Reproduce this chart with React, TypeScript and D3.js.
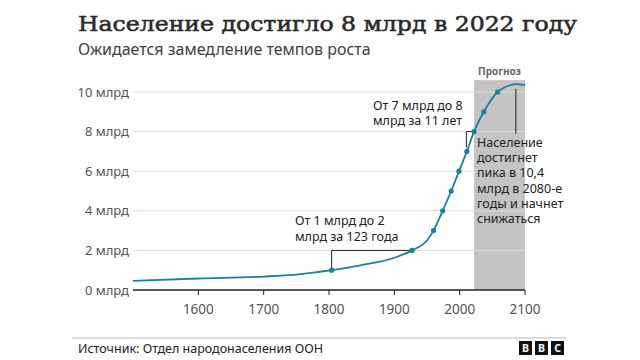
import React from "react";
import * as d3 from "d3";

const years = [1500, 1600, 1700, 1750, 1804, 1850, 1900, 1927, 1950, 1960, 1974, 1987, 1999, 2011, 2022, 2037, 2058, 2070, 2086, 2100];
const population = [0.46, 0.58, 0.68, 0.78, 1.0, 1.26, 1.63, 2.0, 2.5, 3.0, 4.0, 5.0, 6.0, 7.0, 8.0, 9.0, 10.0, 10.25, 10.4, 10.35];
const milestoneYears = [1804, 1927, 1960, 1974, 1987, 1999, 2011, 2022, 2037, 2058];
const milestoneValues = [1, 2, 3, 4, 5, 6, 7, 8, 9, 10];
const yTicks = [0, 2, 4, 6, 8, 10];
const xTicks = [1600, 1700, 1800, 1900, 2000, 2100];
const forecastStart = 2022;
const forecastEnd = 2100;
const forecastTop = 10.6;

const SANS = "'Noto Sans', 'Open Sans', sans-serif";
const SERIF = "'DejaVu Serif', serif";
const LINE = "#1a7fa0";

export default function App() {
  const x = d3.scaleLinear().domain([1500, 2100]).range([133, 525]);
  const y = d3.scaleLinear().domain([0, 10]).range([290, 92]);
  const data = years.map((yr, i) => [yr, population[i]] as [number, number]);
  const line = d3
    .line<[number, number]>()
    .x((d) => x(d[0]))
    .y((d) => y(d[1]))
    .curve(d3.curveMonotoneX);

  const popNote = ["Население", "достигнет", "пика в 10,4", "млрд в 2080-е", "годы и начнет", "снижаться"];

  return (
    <svg width={640} height={360} style={{ position: "absolute", left: 0, top: 0, background: "#fff" }}>
      <rect x={0} y={0} width={640} height={360} fill="#fff" />
      <text x={78} y={31} fontFamily={SERIF} fontSize={20.5} fill="#2a2a2a" stroke="#2a2a2a" strokeWidth={0.55} textLength={499} lengthAdjust="spacingAndGlyphs">
        Население достигло 8 млрд в 2022 году
      </text>
      <text x={78} y={55} fontFamily={SANS} fontSize={16} fill="#404040">
        Ожидается замедление темпов роста
      </text>

      {/* forecast band */}
      <rect
        x={x(forecastStart)}
        y={y(forecastTop)}
        width={x(forecastEnd) - x(forecastStart)}
        height={y(0) - y(forecastTop)}
        fill="#c4c4c4"
      />
      <text x={(x(forecastStart) + x(forecastEnd)) / 2} y={y(forecastTop) - 5} textAnchor="middle" fontFamily={SANS} fontSize={10} fontWeight={700} fill="#666">
        Прогноз
      </text>

      {/* grid */}
      {yTicks.map((t) => (
        <g key={t}>
          {t > 0 && <line x1={x(1500)} x2={x(2100)} y1={y(t)} y2={y(t)} stroke="#dcdcdc" strokeWidth={1} />}
          <text x={129} y={y(t) + 4.5} textAnchor="end" fontFamily={SANS} fontSize={13} fill="#555">
            {t} млрд
          </text>
        </g>
      ))}

      {/* axis */}
      <line x1={x(1500)} x2={x(2100)} y1={y(0)} y2={y(0)} stroke="#222" strokeWidth={1.5} />
      {xTicks.map((t) => (
        <g key={t}>
          <line x1={x(t)} x2={x(t)} y1={y(0)} y2={y(0) + 5} stroke="#222" strokeWidth={1} />
          <text x={x(t)} y={y(0) + 24} textAnchor="middle" fontFamily={SANS} fontSize={13.5} fill="#555">
            {t}
          </text>
        </g>
      ))}

      {/* brackets */}
      <polyline
        points={`${x(1804)},${y(1)} ${x(1804)},${y(2)} ${x(1927)},${y(2)}`}
        fill="none"
        stroke="#222"
        strokeWidth={1}
      />
      <polyline
        points={`${x(2022)},${y(8)} ${x(2011) - 0.5},${y(8)} ${x(2011) - 0.5},${y(7.2)}`}
        fill="none"
        stroke="#222"
        strokeWidth={1}
      />
      <line x1={x(2086)} x2={x(2086)} y1={y(10.4) + 5} y2={y(7.9)} stroke="#222" strokeWidth={1} />

      {/* line */}
      <path d={line(data) || ""} fill="none" stroke={LINE} strokeWidth={1.8} />
      {milestoneYears.map((yr, i) => (
        <circle key={yr} cx={x(yr)} cy={y(milestoneValues[i])} r={2.6} fill={LINE} />
      ))}

      {/* annotations */}
      <text fontFamily={SANS} fontSize={12.5} fill="#222">
        <tspan x={295} y={225}>От 1 млрд до 2</tspan>
        <tspan x={295} y={241}>млрд за 123 года</tspan>
      </text>
      <text fontFamily={SANS} fontSize={12.5} fill="#222">
        <tspan x={373} y={110}>От 7 млрд до 8</tspan>
        <tspan x={373} y={125}>млрд за 11 лет</tspan>
      </text>
      <text fontFamily={SANS} fontSize={12.5} fill="#222">
        {popNote.map((s, i) => (
          <tspan key={i} x={477} y={147 + i * 15.2}>
            {s}
          </tspan>
        ))}
      </text>

      {/* footer */}
      <line x1={72} x2={566} y1={338} y2={338} stroke="#bbb" strokeWidth={1.2} />
      <text x={78} y={353} fontFamily={SANS} fontSize={12.5} fill="#222">
        Источник: Отдел народонаселения ООН
      </text>
      {["B", "B", "C"].map((c, i) => (
        <g key={i}>
          <rect x={519 + i * 16} y={341} width={13} height={14} fill="#111" />
          <text x={519 + i * 16 + 6.5} y={352} textAnchor="middle" fontFamily={SANS} fontSize={10.5} fontWeight={700} fill="#fff">
            {c}
          </text>
        </g>
      ))}
    </svg>
  );
}
